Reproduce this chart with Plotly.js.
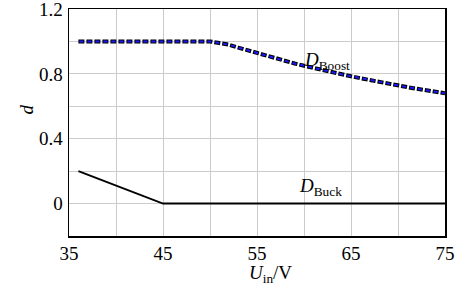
<!DOCTYPE html>
<html><head><meta charset="utf-8">
<script src="https://cdn.plot.ly/plotly-3.0.1.min.js"></script>
<style>html,body{margin:0;padding:0;background:#fff}#c{width:466px;height:284px}</style>
</head><body><div id="c"></div>
<script>
const uin = [36,37,38,39,40,41,42,43,44,45,46,47,48,49,50,51,52,53,54,55,56,57,58,59,60,61,62,63,64,65,66,67,68,69,70,71,72,73,74,75];
const dBoost = [1,1,1,1,1,1,1,1,1,1,1,1,1,1,1,0.99,0.98,0.962,0.945,0.927,0.91,0.895,0.88,0.864,0.85,0.836,0.823,0.81,0.797,0.785,0.773,0.761,0.75,0.739,0.729,0.718,0.708,0.699,0.689,0.68];
const uinBuck = [36,45,75];
const dBuck = [0.2,0,0];

const F = "Liberation Serif";
const FS = 19;
const traces = [
  {x: uinBuck, y: dBuck, mode:'lines', line:{color:'#000', width:2}, hoverinfo:'skip'},
  {x: uin, y: dBoost, mode:'lines', line:{color:'#000', width:4, dash:'6px,2px'}, hoverinfo:'skip'},
  {x: uin, y: dBoost, mode:'lines', line:{color:'#1a1aff', width:2, dash:'0px,1px,4px,3px'}, hoverinfo:'skip'}
];
const layout = {
  width:466, height:284, showlegend:false,
  margin:{l:68.5, r:20.5, t:9, b:48},
  paper_bgcolor:'#fff', plot_bgcolor:'#fff',
  font:{family:F, size:FS, color:'#000'},
  xaxis:{range:[35,75], tickmode:'linear', tick0:35, dtick:10, showgrid:true, gridcolor:'#cccccc', gridwidth:1,
    minor:{dtick:5, tick0:35, showgrid:true, gridcolor:'#cccccc', gridwidth:1},
    showline:true, linecolor:'#000', linewidth:1.5, mirror:true, ticks:'', zeroline:false,
    tickfont:{family:F, size:FS}, ticklabeloverflow:'allow', ticklabelstandoff:0},
  yaxis:{range:[-0.2,1.2], tickmode:'linear', tick0:0, dtick:0.4, showgrid:true, gridcolor:'#cccccc', gridwidth:1,
    minor:{dtick:0.2, tick0:0, showgrid:true, gridcolor:'#cccccc', gridwidth:1},
    showline:true, linecolor:'#000', linewidth:1.5, mirror:true, ticks:'', zeroline:false,
    tickfont:{family:F, size:FS}, ticklabeloverflow:'allow', ticklabelstandoff:1},
  annotations:[
    {x:62.4, y:0.878, xref:'x', yref:'y', text:'<i>D</i><sub>Boost</sub>', showarrow:false, font:{family:F, size:FS}},
    {x:61.8, y:0.10, xref:'x', yref:'y', text:'<i>D</i><sub>Buck</sub>', showarrow:false, font:{family:F, size:FS}},
    {x:0, y:0, xref:'paper', yref:'paper', xanchor:'center', yanchor:'bottom', borderpad:0, text:'<i>U</i><sub>in</sub>/V', showarrow:false, font:{family:F, size:FS}},
    {x:0, y:0, xref:'paper', yref:'paper', xanchor:'center', yanchor:'middle', text:'<i>d</i>', textangle:-90, showarrow:false, font:{family:F, size:FS}}
  ]
};
const pl = layout.margin.l, pw = 466 - layout.margin.l - layout.margin.r;
const pt = layout.margin.t, ph = 284 - layout.margin.t - layout.margin.b;
layout.annotations[2].x = (271 - pl) / pw; layout.annotations[2].y = 1 - (287 - pt) / ph;
layout.annotations[3].x = (25 - pl) / pw; layout.annotations[3].y = 1 - (110 - pt) / ph;
Plotly.newPlot('c', traces, layout, {staticPlot:true, displayModeBar:false});
</script></body></html>
